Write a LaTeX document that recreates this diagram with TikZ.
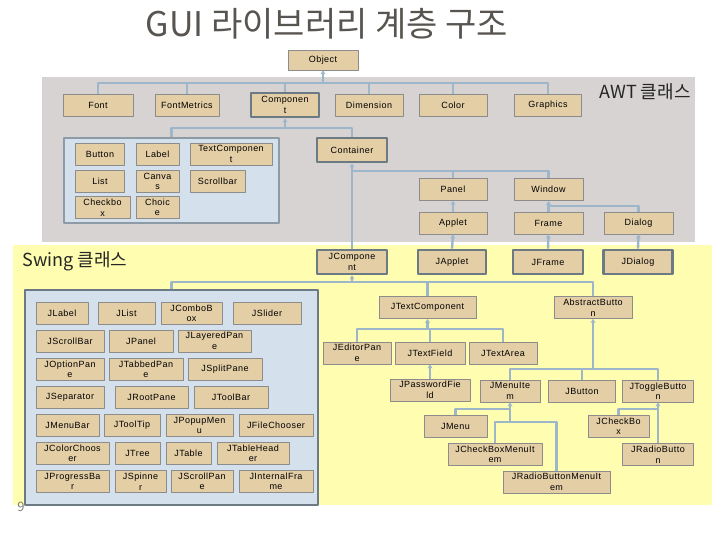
\documentclass[tikz,border=0pt]{standalone}
\usepackage{fontspec}
\setmainfont{Liberation Sans}
\newfontfamily\krfont{Noto Sans CJK KR}
\newfontfamily\boxfont[LetterSpace=5]{Liberation Sans}
\usetikzlibrary{arrows.meta}
\definecolor{awtgray}{RGB}{215,211,211}
\definecolor{swingyellow}{RGB}{255,253,175}
\definecolor{groupfill}{RGB}{212,224,236}
\definecolor{groupline}{RGB}{141,155,166}
\definecolor{boxfill}{RGB}{228,206,166}
\definecolor{boxline}{RGB}{140,140,140}
\definecolor{heavyline}{RGB}{108,122,132}
\definecolor{linkblue}{RGB}{158,182,201}
\definecolor{titlegray}{RGB}{88,84,80}

\begin{document}
\begin{tikzpicture}[x=1pt,y=-1pt,line join=round,>={Stealth[length=4pt,width=5pt]}]
	\tikzset{cls/.style={draw=boxline,fill=boxfill,line width=0.8pt,minimum height=22pt,inner sep=1pt,
			align=center,text=black,font=\boxfont\fontsize{9}{10.5}\selectfont},
		heavy/.style={cls,draw=heavyline,line width=2.8pt,minimum height=24pt},
		link/.style={draw=linkblue,line width=2.4pt},
		group/.style={draw=groupline,fill=groupfill,line width=1.2pt},
		krlabel/.style={font=\krfont\fontsize{18}{20}\selectfont,text=black!85}}
	\useasboundingbox (0,0) rectangle (720,540);
	\fill[awtgray] (42,77) rectangle (695,242);
	\fill[swingyellow] (13,245) rectangle (712,505);
	\node[font=\krfont\fontsize{34}{38}\selectfont,text=titlegray] (title) at (327,24) {GUI 라이브러리 계층 구조};
	\node[krlabel] (awtlabel) at (645,92) {AWT 클래스};
	\node[krlabel] (swinglabel) at (75,261) {Swing 클래스};
	\node[font=\krfont\fontsize{13}{15}\selectfont,text=black!50] (page) at (21,507) {9};
	\node[group,minimum width=215pt,minimum height=85pt] (awtbox) at (171.5,180.5) {};
	\node[group,draw=heavyline,line width=2.8pt,minimum width=293pt,minimum height=215pt] (swingbox) at (171.5,397.5) {};
	\node[cls,minimum width=70pt,minimum height=20pt] (object) at (323,60) {Object};
	\foreach \n/\x/\y/\w/\t in {component/285/105/68/{Componen\\t},container/352/150/70/Container,
			jcomponent/352/262/70/{JCompone\\nt},japplet/452/262/68/JApplet,
			jframe/548/262/70/JFrame,jdialog/638/262/69/JDialog}
		\node[heavy,minimum width=\w pt] (\n) at (\x,\y) {\t};
	\foreach \n/\x/\y/\w/\t in {font/98/105/70/Font,fontmetrics/187/105/64/FontMetrics,
			dimension/369/105/68/Dimension,color/453/105/68/Color,graphics/548/105/67/Graphics,
			button/100/154/49/Button,label/157.5/154/43/Label,textcomponent/231/154/82/{TextComponen\\t},
			list/100/181.5/49/List,canvas/157.5/181.5/43/{Canva\\s},scrollbar/217.5/181.5/55/Scrollbar,
			checkbox/102.5/207.5/55/{Checkbo\\x},choice/157.5/207.5/43/{Choic\\e},
			panel/453/189.5/68/Panel,window/548.5/189.5/69/Window,
			applet/453/223/68/Applet,frame/548.5/223/69/Frame,dialog/638.5/223/69/Dialog,
			jtextcomponent/427.5/307.5/97/JTextComponent,abstractbutton/593/307.5/78/{AbstractButto\\n},
			jeditorpane/357/353/68/{JEditorPan\\e},jtextfield/430/353/70/JTextField,jtextarea/503/353/68/JTextArea,
			jpasswordfield/430/390/80/{JPasswordFie\\ld},jmenuitem/510/391/60/{JMenuIte\\m},
			jbutton/582/391/67/JButton,jtogglebutton/658/391/71/{JToggleButto\\n},
			jmenu/455.5/426/63/JMenu,jcheckboxmenuitem/495/454.5/94/{JCheckBoxMenuIt\\em},
			jradiobuttonmenuitem/556.5/482/107/{JRadioButtonMenuIt\\em},
			jcheckbox/618.5/426/61/{JCheckBo\\x},jradiobutton/658/454.5/71/{JRadioButto\\n},
			jlabel/62/313.5/52/JLabel,jlist/126.5/313.5/57/JList,jcombobox/191.5/313.5/61/{JComboB\\ox},
			jslider/267/313.5/68/JSlider,jscrollbar/70/341/68/JScrollBar,jpanel/141/341/64/JPanel,
			jlayeredpane/214.5/341/73/{JLayeredPan\\e},joptionpane/70/369.5/68/{JOptionPan\\e},
			jtabbedpane/146/369.5/74/{JTabbedPan\\e},jsplitpane/225/369.5/74/JSplitPane,
			jseparator/70/397.5/68/JSeparator,jrootpane/151.5/397.5/73/JRootPane,jtoolbar/231/397.5/74/JToolBar,
			jmenubar/67.5/425.5/63/JMenuBar,jtooltip/132/425.5/56/JToolTip,
			jpopupmenu/199.5/425.5/67/{JPopupMen\\u},jfilechooser/276/425.5/74/JFileChooser,
			jcolorchooser/72.5/453.5/73/{JColorChoos\\er},jtree/137.5/453.5/45/JTree,
			jtable/188.5/453.5/45/JTable,jtableheader/253/453.5/72/{JTableHead\\er},
			jprogressbar/72.5/481.5/73/{JProgressBa\\r},jspinner/140.5/481.5/51/{JSpinne\\r},
			jscrollpane/202/481.5/62/{JScrollPan\\e},jinternalframe/276/481.5/74/{JInternalFra\\me}}
		\node[cls,minimum width=\w pt] (\n) at (\x,\y) {\t};
	\coordinate (awtbus) at (0,83);
	\coordinate (cbus) at (0,128);
	\coordinate (conbus) at (0,171);
	\coordinate (winbus) at (0,206);
	\coordinate (jbus) at (0,282);
	\coordinate (tbus) at (0,329);
	\coordinate (abus) at (0,369);
	\coordinate (mbus) at (0,409);
	\coordinate (mbus2) at (0,422);
	\draw[link] (font.north) |- (graphics.north |- awtbus) -- (graphics.north);
	\foreach \n in {fontmetrics,component,dimension,color}
		\draw[link] (\n.north) -- (\n.north |- awtbus);
	\draw[link,->] (object.south |- awtbus) -- (object.south);
	\draw[link] (awtbox.north) |- (container.north |- cbus) -- (container.north);
	\draw[link,->] (component.south |- cbus) -- (component.south);
	\draw[link] (container.south |- conbus) -| (window.north);
	\draw[link] (panel.north) -- (panel.north |- conbus);
	\draw[link,->] (jcomponent.north) -- (container.south);
	\draw[link,->] (applet.north) -- (panel.south);
	\draw[link] (dialog.north) |- (window.south |- winbus);
	\draw[link,->] (frame.north) -- (window.south);
	\draw[link,->] (japplet.north) -- (applet.south);
	\draw[link,->] (jframe.north) -- (frame.south);
	\draw[link,->] (jdialog.north) -- (dialog.south);
	\draw[link] (swingbox.north) |- (abstractbutton.north |- jbus) -- (abstractbutton.north);
	\draw[link] (jtextcomponent.north) -- (jtextcomponent.north |- jbus);
	\draw[link,->] (jcomponent.south |- jbus) -- (jcomponent.south);
	\draw[link] (jeditorpane.north) |- (jtextarea.north |- tbus) -- (jtextarea.north);
	\draw[link] (jtextfield.north) -- (jtextfield.north |- tbus);
	\draw[link,->] (jtextcomponent.south |- tbus) -- (jtextcomponent.south);
	\draw[link,->] (jpasswordfield.north) -- (jtextfield.south);
	\draw[link] (jmenuitem.north) |- (jtogglebutton.north |- abus) -- (jtogglebutton.north);
	\draw[link] (jbutton.north) -- (jbutton.north |- abus);
	\draw[link,->] (abstractbutton.south |- abus) -- (abstractbutton.south);
	\draw[link] (jmenu.north) |- (jmenuitem.south |- mbus);
	\draw[link] (jcheckboxmenuitem.north) |- (jmenuitem.south |- mbus2) -| (jradiobuttonmenuitem.north);
	\draw[link,->] (jmenuitem.south |- mbus2) -- (jmenuitem.south);
	\draw[link] (jcheckbox.north) |- (jtogglebutton.south |- mbus);
	\draw[link,->] (jradiobutton.north) -- (jtogglebutton.south);
\end{tikzpicture}
\end{document}
